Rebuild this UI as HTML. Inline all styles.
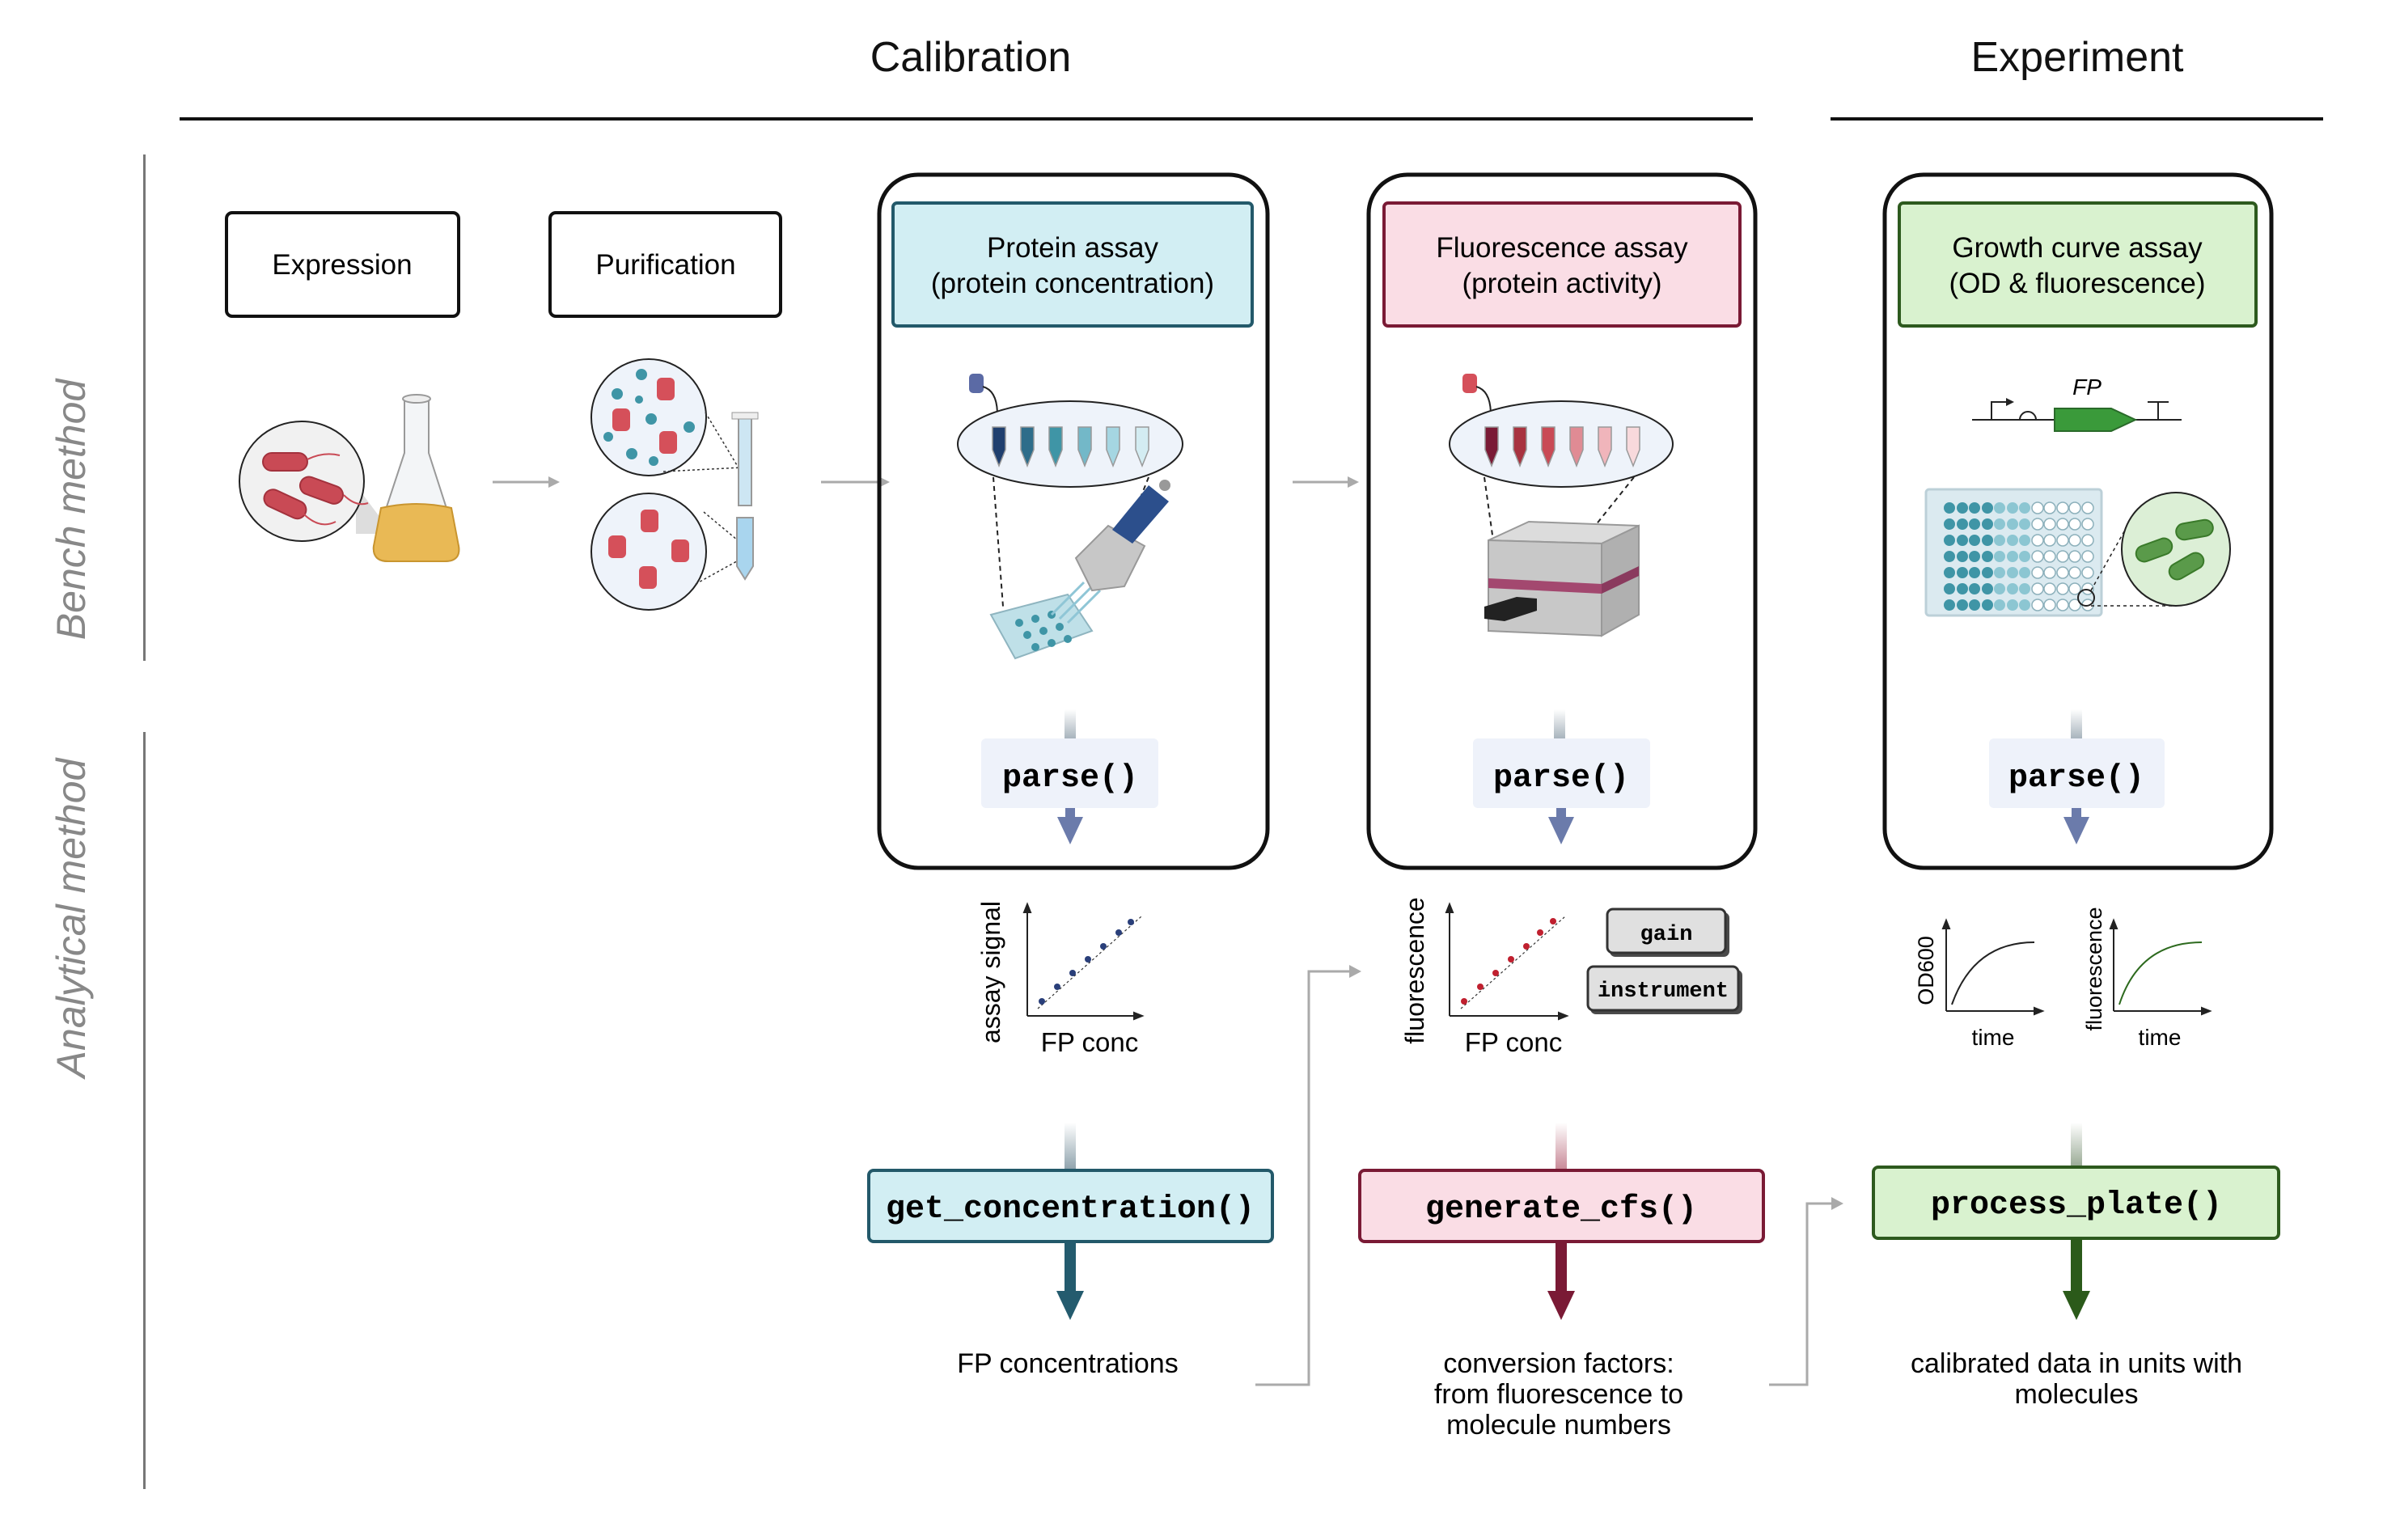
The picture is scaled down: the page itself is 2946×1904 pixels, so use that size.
<!DOCTYPE html>
<html><head><meta charset="utf-8"><style>
html,body{margin:0;padding:0;background:#fff}
svg{display:block}
text{font-family:"Liberation Sans",sans-serif}
.m{font-family:"Liberation Mono",monospace;font-weight:bold}
</style></head><body>
<svg width="2946" height="1904" viewBox="0 0 2946 1904" xmlns="http://www.w3.org/2000/svg">
<defs>
<linearGradient id="gb" x1="0" y1="0" x2="0" y2="1"><stop offset="0" stop-color="#fff"/><stop offset="1" stop-color="#8fa3ad"/></linearGradient>
<linearGradient id="gr" x1="0" y1="0" x2="0" y2="1"><stop offset="0" stop-color="#fff"/><stop offset="1" stop-color="#c98a98"/></linearGradient>
<linearGradient id="gg" x1="0" y1="0" x2="0" y2="1"><stop offset="0" stop-color="#fff"/><stop offset="1" stop-color="#9aab96"/></linearGradient>
<linearGradient id="gp" x1="0" y1="0" x2="0" y2="1"><stop offset="0" stop-color="#fff"/><stop offset="1" stop-color="#a8b4bd"/></linearGradient>
</defs>

<!-- Titles -->
<text x="1200" y="88" font-size="52" text-anchor="middle" fill="#111">Calibration</text>
<text x="2568" y="88" font-size="52" text-anchor="middle" fill="#111">Experiment</text>
<rect x="222" y="145" width="1945" height="4" fill="#111"/>
<rect x="2263" y="145" width="609" height="4" fill="#111"/>

<!-- Left axis -->
<rect x="177" y="191" width="3" height="626" fill="#777"/>
<rect x="177" y="905" width="3" height="936" fill="#777"/>
<text transform="translate(105,630) rotate(-90)" font-size="50" font-style="italic" fill="#888" text-anchor="middle">Bench method</text>
<text transform="translate(105,1135) rotate(-90)" font-size="50" font-style="italic" fill="#888" text-anchor="middle">Analytical method</text>

<!-- Expression / Purification boxes -->
<rect x="280" y="263" width="287" height="128" rx="7" fill="#fff" stroke="#111" stroke-width="4"/>
<text x="423" y="339" font-size="35" text-anchor="middle">Expression</text>
<rect x="680" y="263" width="285" height="128" rx="7" fill="#fff" stroke="#111" stroke-width="4"/>
<text x="823" y="339" font-size="35" text-anchor="middle">Purification</text>

<!-- Bacteria + flask -->
<polygon points="440,600 470,640 470,660 440,660" fill="#ddd"/>
<ellipse cx="373" cy="595" rx="77" ry="74" fill="#f1f1f1" stroke="#222" stroke-width="2"/>
<g fill="#c94a55" stroke="#a3323d" stroke-width="2">
<rect x="325" y="560" width="55" height="22" rx="11"/>
<rect x="370" y="595" width="55" height="22" rx="11" transform="rotate(20 397 606)"/>
<rect x="325" y="612" width="55" height="22" rx="11" transform="rotate(25 352 623)"/>
</g>
<path d="M380 568 q20 -10 40 -5 M425 612 q15 15 30 10 M375 635 q20 20 40 10" stroke="#c94a55" stroke-width="2" fill="none"/>
<path d="M500 493 L500 560 L462 675 Q460 694 480 694 L550 694 Q570 694 567 675 L530 560 L530 493 Z" fill="#f3f5f7" stroke="#999" stroke-width="2"/>
<ellipse cx="515" cy="493" rx="17" ry="5" fill="#eee" stroke="#999" stroke-width="2"/>
<path d="M471 628 Q515 618 558 628 L567 675 Q570 694 550 694 L480 694 Q460 694 462 675 Z" fill="#e9b955" stroke="#c9952f" stroke-width="2"/>

<!-- Arrows bench -->
<g stroke="#aaa" stroke-width="3" fill="#aaa">
<line x1="609" y1="596" x2="680" y2="596"/><polygon points="678,589 692,596 678,603" stroke="none"/>
<line x1="1015" y1="596" x2="1088" y2="596"/><polygon points="1086,589 1100,596 1086,603" stroke="none"/>
<line x1="1598" y1="596" x2="1668" y2="596"/><polygon points="1666,589 1680,596 1666,603" stroke="none"/>
</g>

<!-- Purification circles -->
<ellipse cx="802" cy="516" rx="71" ry="72" fill="#eef3fa" stroke="#222" stroke-width="2"/>
<ellipse cx="802" cy="682" rx="71" ry="72" fill="#eef3fa" stroke="#222" stroke-width="2"/>
<g fill="#d5505a">
<rect x="812" y="467" width="22" height="28" rx="6"/><rect x="757" y="505" width="22" height="28" rx="6"/><rect x="815" y="533" width="22" height="28" rx="6"/>
<rect x="792" y="630" width="22" height="28" rx="6"/><rect x="752" y="662" width="22" height="28" rx="6"/><rect x="830" y="667" width="22" height="28" rx="6"/><rect x="790" y="700" width="22" height="28" rx="6"/>
</g>
<g fill="#3f95a6"><circle cx="793" cy="463" r="7"/><circle cx="763" cy="487" r="7"/><circle cx="805" cy="518" r="7"/><circle cx="852" cy="528" r="7"/><circle cx="781" cy="561" r="7"/><circle cx="790" cy="494" r="5"/><circle cx="752" cy="540" r="6"/><circle cx="808" cy="570" r="6"/></g>
<path d="M872 510 L917 585 M820 583 L917 578 M870 633 L918 673 M860 722 L918 690" stroke="#333" stroke-width="1.5" stroke-dasharray="3,3" fill="none"/>
<rect x="913" y="515" width="16" height="110" fill="#cde6f3" stroke="#999" stroke-width="2"/>
<rect x="905" y="510" width="32" height="8" fill="#eee" stroke="#999"/>
<path d="M911 640 L931 640 L931 700 L921 716 L911 700 Z" fill="#a9d5ee" stroke="#999" stroke-width="2"/>

<!-- Outer panels -->
<rect x="1087" y="216" width="480" height="857" rx="48" fill="none" stroke="#111" stroke-width="5"/>
<rect x="1692" y="216" width="478" height="857" rx="48" fill="none" stroke="#111" stroke-width="5"/>
<rect x="2330" y="216" width="478" height="857" rx="48" fill="none" stroke="#111" stroke-width="5"/>

<!-- Headers -->
<rect x="1104" y="251" width="444" height="152" rx="5" fill="#d2eef3" stroke="#23596a" stroke-width="4"/>
<text x="1326" y="318" font-size="35" text-anchor="middle">Protein assay</text>
<text x="1326" y="362" font-size="35" text-anchor="middle">(protein concentration)</text>
<rect x="1711" y="251" width="440" height="152" rx="5" fill="#fadde5" stroke="#7a1a35" stroke-width="4"/>
<text x="1931" y="318" font-size="35" text-anchor="middle">Fluorescence assay</text>
<text x="1931" y="362" font-size="35" text-anchor="middle">(protein activity)</text>
<rect x="2348" y="251" width="441" height="152" rx="5" fill="#d9f2cf" stroke="#2d5a1e" stroke-width="4"/>
<text x="2568" y="318" font-size="35" text-anchor="middle">Growth curve assay</text>
<text x="2568" y="362" font-size="35" text-anchor="middle">(OD &amp; fluorescence)</text>

<!-- Protein assay illustration -->
<rect x="1198" y="462" width="18" height="24" rx="5" fill="#5b6aa5"/>
<path d="M1215 478 q18 5 18 35" stroke="#222" stroke-width="2" fill="none"/>
<ellipse cx="1323" cy="549" rx="139" ry="53" fill="#eef3fa" stroke="#222" stroke-width="2"/>
<g stroke="#999" stroke-width="1.5">
<path d="M1227 528 h16 v28 l-8 20 l-8 -20 z" fill="#1f3f6e"/>
<path d="M1262 528 h16 v28 l-8 20 l-8 -20 z" fill="#2e6d8a"/>
<path d="M1297 528 h16 v28 l-8 20 l-8 -20 z" fill="#3f95a6"/>
<path d="M1333 528 h16 v28 l-8 20 l-8 -20 z" fill="#73b8c8"/>
<path d="M1368 528 h16 v28 l-8 20 l-8 -20 z" fill="#a5d6e2"/>
<path d="M1404 528 h16 v28 l-8 20 l-8 -20 z" fill="#d3ecf2"/>
</g>
<path d="M1228 590 L1240 750 M1420 590 L1380 690" stroke="#222" stroke-width="2" stroke-dasharray="6,5" fill="none"/>
<polygon points="1225,760 1320,735 1350,780 1255,814" fill="#bfe0e8" stroke="#8fb5c0" stroke-width="2"/>
<g fill="#3f95a6"><circle cx="1260" cy="770" r="5"/><circle cx="1280" cy="765" r="5"/><circle cx="1300" cy="760" r="5"/><circle cx="1270" cy="785" r="5"/><circle cx="1290" cy="780" r="5"/><circle cx="1310" cy="775" r="5"/><circle cx="1280" cy="800" r="5"/><circle cx="1300" cy="795" r="5"/><circle cx="1320" cy="790" r="5"/></g>
<path d="M1300 760 L1340 720 M1310 765 L1350 725 M1320 770 L1360 730" stroke="#8fc6d6" stroke-width="3"/>
<polygon points="1330,690 1370,650 1415,675 1390,725 1350,730" fill="#c7c7c7" stroke="#999" stroke-width="2"/>
<polygon points="1375,655 1420,600 1445,620 1400,672" fill="#2c4f8c"/>
<circle cx="1440" cy="600" r="7" fill="#999"/>

<!-- Fluorescence illustration -->
<rect x="1808" y="462" width="18" height="24" rx="5" fill="#d5505a"/>
<path d="M1825 478 q18 5 18 35" stroke="#222" stroke-width="2" fill="none"/>
<ellipse cx="1930" cy="549" rx="138" ry="53" fill="#eef3fa" stroke="#222" stroke-width="2"/>
<g stroke="#999" stroke-width="1.5">
<path d="M1836 528 h16 v28 l-8 20 l-8 -20 z" fill="#7a1a35"/>
<path d="M1871 528 h16 v28 l-8 20 l-8 -20 z" fill="#a8323f"/>
<path d="M1906 528 h16 v28 l-8 20 l-8 -20 z" fill="#c94a55"/>
<path d="M1941 528 h16 v28 l-8 20 l-8 -20 z" fill="#e08b94"/>
<path d="M1976 528 h16 v28 l-8 20 l-8 -20 z" fill="#f0b5bb"/>
<path d="M2011 528 h16 v28 l-8 20 l-8 -20 z" fill="#f8d9dc"/>
</g>
<path d="M1835 590 L1856 740 M2020 590 L1900 740" stroke="#222" stroke-width="2" stroke-dasharray="6,5" fill="none"/>
<polygon points="1840,668 1890,645 2026,650 1980,672" fill="#dcdcdc" stroke="#999" stroke-width="2"/>
<polygon points="1840,668 1980,672 1980,786 1840,780" fill="#c8c8c8" stroke="#999" stroke-width="2"/>
<polygon points="1980,672 2026,650 2026,760 1980,786" fill="#b0b0b0" stroke="#999" stroke-width="2"/>
<polygon points="1840,715 1980,722 1980,734 1840,727" fill="#a3486f"/>
<polygon points="1980,722 2026,700 2026,712 1980,734" fill="#8a3a5e"/>
<polygon points="1835,750 1875,738 1900,740 1900,755 1860,768 1835,765" fill="#222"/>

<!-- Growth illustration -->
<text x="2580" y="488" font-size="28" font-style="italic" text-anchor="middle">FP</text>
<line x1="2438" y1="519" x2="2697" y2="519" stroke="#222" stroke-width="2"/>
<path d="M2462 519 v-22 h18" stroke="#222" stroke-width="2" fill="none"/><polygon points="2480,492 2490,497 2480,502" fill="#222"/>
<path d="M2497 519 a10 10 0 0 1 20 0" stroke="#222" stroke-width="2" fill="none"/>
<polygon points="2540,505 2610,505 2640,519 2610,533 2540,533" fill="#3a9a3a" stroke="#2a6a2a" stroke-width="2"/>
<path d="M2668 519 v-22 M2655 497 h26" stroke="#222" stroke-width="2"/>
<rect x="2381" y="605" width="217" height="156" rx="4" fill="#dbeaf0" stroke="#bcd0d8" stroke-width="3"/>
<g id="wells"></g>
<g>
<!-- 12x8 wells -->
<g fill="#3f95a6">
<circle cx="2410" cy="628" r="7"/><circle cx="2426" cy="628" r="7"/><circle cx="2441" cy="628" r="7"/><circle cx="2457" cy="628" r="7"/>
<circle cx="2410" cy="648" r="7"/><circle cx="2426" cy="648" r="7"/><circle cx="2441" cy="648" r="7"/><circle cx="2457" cy="648" r="7"/>
<circle cx="2410" cy="668" r="7"/><circle cx="2426" cy="668" r="7"/><circle cx="2441" cy="668" r="7"/><circle cx="2457" cy="668" r="7"/>
<circle cx="2410" cy="688" r="7"/><circle cx="2426" cy="688" r="7"/><circle cx="2441" cy="688" r="7"/><circle cx="2457" cy="688" r="7"/>
<circle cx="2410" cy="708" r="7"/><circle cx="2426" cy="708" r="7"/><circle cx="2441" cy="708" r="7"/><circle cx="2457" cy="708" r="7"/>
<circle cx="2410" cy="728" r="7"/><circle cx="2426" cy="728" r="7"/><circle cx="2441" cy="728" r="7"/><circle cx="2457" cy="728" r="7"/>
<circle cx="2410" cy="748" r="7"/><circle cx="2426" cy="748" r="7"/><circle cx="2441" cy="748" r="7"/><circle cx="2457" cy="748" r="7"/>
</g>
<g fill="#8cc6d2">
<circle cx="2472" cy="628" r="7"/><circle cx="2488" cy="628" r="7"/><circle cx="2503" cy="628" r="7"/><circle cx="2472" cy="648" r="7"/><circle cx="2488" cy="648" r="7"/><circle cx="2503" cy="648" r="7"/><circle cx="2472" cy="668" r="7"/><circle cx="2488" cy="668" r="7"/><circle cx="2503" cy="668" r="7"/><circle cx="2472" cy="688" r="7"/><circle cx="2488" cy="688" r="7"/><circle cx="2503" cy="688" r="7"/><circle cx="2472" cy="708" r="7"/><circle cx="2488" cy="708" r="7"/><circle cx="2503" cy="708" r="7"/><circle cx="2472" cy="728" r="7"/><circle cx="2488" cy="728" r="7"/><circle cx="2503" cy="728" r="7"/><circle cx="2472" cy="748" r="7"/><circle cx="2488" cy="748" r="7"/><circle cx="2503" cy="748" r="7"/>
</g>
<g fill="#fff" stroke="#8cb0bb" stroke-width="1.5">
<circle cx="2519" cy="628" r="7"/><circle cx="2534" cy="628" r="7"/><circle cx="2550" cy="628" r="7"/><circle cx="2565" cy="628" r="7"/><circle cx="2581" cy="628" r="7"/>
<circle cx="2519" cy="648" r="7"/><circle cx="2534" cy="648" r="7"/><circle cx="2550" cy="648" r="7"/><circle cx="2565" cy="648" r="7"/><circle cx="2581" cy="648" r="7"/>
<circle cx="2519" cy="668" r="7"/><circle cx="2534" cy="668" r="7"/><circle cx="2550" cy="668" r="7"/><circle cx="2565" cy="668" r="7"/><circle cx="2581" cy="668" r="7"/>
<circle cx="2519" cy="688" r="7"/><circle cx="2534" cy="688" r="7"/><circle cx="2550" cy="688" r="7"/><circle cx="2565" cy="688" r="7"/><circle cx="2581" cy="688" r="7"/>
<circle cx="2519" cy="708" r="7"/><circle cx="2534" cy="708" r="7"/><circle cx="2550" cy="708" r="7"/><circle cx="2565" cy="708" r="7"/><circle cx="2581" cy="708" r="7"/>
<circle cx="2519" cy="728" r="7"/><circle cx="2534" cy="728" r="7"/><circle cx="2550" cy="728" r="7"/><circle cx="2565" cy="728" r="7"/><circle cx="2581" cy="728" r="7"/>
<circle cx="2519" cy="748" r="7"/><circle cx="2534" cy="748" r="7"/><circle cx="2550" cy="748" r="7"/><circle cx="2565" cy="748" r="7"/><circle cx="2581" cy="748" r="7"/>
</g>
<circle cx="2579" cy="739" r="10" fill="none" stroke="#222" stroke-width="2"/>
</g>
<path d="M2585 730 L2630 650 M2585 749 L2690 749" stroke="#222" stroke-width="1.5" stroke-dasharray="4,4" fill="none"/>
<ellipse cx="2690" cy="679" rx="67" ry="70" fill="#dcefd6" stroke="#222" stroke-width="2"/>
<g fill="#5a9a4a" stroke="#3a7a2a" stroke-width="2">
<rect x="2690" y="645" width="46" height="20" rx="10" transform="rotate(-10 2713 655)"/>
<rect x="2640" y="670" width="46" height="20" rx="10" transform="rotate(-20 2663 680)"/>
<rect x="2680" y="690" width="46" height="20" rx="10" transform="rotate(-30 2703 700)"/>
</g>

<!-- parse boxes -->
<rect x="1316" y="877" width="14" height="36" fill="url(#gp)"/>
<rect x="1921" y="877" width="14" height="36" fill="url(#gp)"/>
<rect x="2560" y="877" width="14" height="36" fill="url(#gp)"/>
<rect x="1213" y="913" width="219" height="86" rx="6" fill="#eef2fa"/>
<rect x="1821" y="913" width="219" height="86" rx="6" fill="#eef2fa"/>
<rect x="2459" y="913" width="217" height="86" rx="6" fill="#eef2fa"/>
<text x="1323" y="972" class="m" font-size="40" text-anchor="middle">parse()</text>
<text x="1930" y="972" class="m" font-size="40" text-anchor="middle">parse()</text>
<text x="2567" y="972" class="m" font-size="40" text-anchor="middle">parse()</text>
<g fill="#6b7bab">
<rect x="1317" y="999" width="12" height="18"/><polygon points="1307,1010 1339,1010 1323,1044"/>
<rect x="1924" y="999" width="12" height="18"/><polygon points="1914,1010 1946,1010 1930,1044"/>
<rect x="2561" y="999" width="12" height="18"/><polygon points="2551,1010 2583,1010 2567,1044"/>
</g>

<!-- Plots -->
<g stroke="#222" stroke-width="2" fill="#222">
<line x1="1270" y1="1125" x2="1270" y2="1256"/><polygon points="1266,1128 1270,1118 1274,1128" />
<line x1="1270" y1="1256" x2="1405" y2="1256"/><polygon points="1402,1252 1412,1256 1402,1260"/>
<line x1="1792" y1="1125" x2="1792" y2="1256"/><polygon points="1788,1128 1792,1118 1796,1128"/>
<line x1="1792" y1="1256" x2="1930" y2="1256"/><polygon points="1927,1252 1937,1256 1927,1260"/>
<line x1="2406" y1="1145" x2="2406" y2="1250"/><polygon points="2402,1148 2406,1138 2410,1148"/>
<line x1="2406" y1="1250" x2="2518" y2="1250"/><polygon points="2515,1246 2525,1250 2515,1254"/>
<line x1="2613" y1="1145" x2="2613" y2="1250"/><polygon points="2609,1148 2613,1138 2617,1148"/>
<line x1="2613" y1="1250" x2="2725" y2="1250"/><polygon points="2722,1246 2732,1250 2722,1254"/>
</g>
<line x1="1283" y1="1247" x2="1411" y2="1133" stroke="#333" stroke-width="1.2" stroke-dasharray="3,3"/>
<g fill="#2a3f7a"><circle cx="1288" cy="1238" r="4"/><circle cx="1307" cy="1220" r="4"/><circle cx="1326" cy="1203" r="4"/><circle cx="1345" cy="1186" r="4"/><circle cx="1364" cy="1170" r="4"/><circle cx="1383" cy="1153" r="4"/><circle cx="1398" cy="1140" r="4"/></g>
<line x1="1806" y1="1247" x2="1935" y2="1133" stroke="#333" stroke-width="1.2" stroke-dasharray="3,3"/>
<g fill="#c0202f"><circle cx="1810" cy="1238" r="4"/><circle cx="1830" cy="1220" r="4"/><circle cx="1849" cy="1203" r="4"/><circle cx="1868" cy="1186" r="4"/><circle cx="1887" cy="1170" r="4"/><circle cx="1904" cy="1153" r="4"/><circle cx="1920" cy="1139" r="4"/></g>
<path d="M2413 1242 Q2440 1165 2515 1165" stroke="#222" stroke-width="2" fill="none"/>
<path d="M2620 1242 Q2645 1165 2722 1165" stroke="#2d6a1e" stroke-width="2" fill="none"/>
<text transform="translate(1236,1202) rotate(-90)" font-size="32" text-anchor="middle">assay signal</text>
<text x="1347" y="1300" font-size="33" text-anchor="middle">FP conc</text>
<text transform="translate(1760,1200) rotate(-90)" font-size="32" text-anchor="middle">fluorescence</text>
<text x="1871" y="1300" font-size="33" text-anchor="middle">FP conc</text>
<text transform="translate(2390,1200) rotate(-90)" font-size="27" text-anchor="middle">OD600</text>
<text transform="translate(2598,1198) rotate(-90)" font-size="27" text-anchor="middle">fluorescence</text>
<text x="2464" y="1292" font-size="28" text-anchor="middle">time</text>
<text x="2670" y="1292" font-size="28" text-anchor="middle">time</text>
<rect x="1990" y="1128" width="148" height="55" rx="7" fill="#4a4a4a"/>
<rect x="1987" y="1124" width="146" height="54" rx="7" fill="#e0e0e0" stroke="#333" stroke-width="3"/>
<text x="2060" y="1162" class="m" font-size="27" text-anchor="middle">gain</text>
<rect x="1966" y="1199" width="188" height="55" rx="7" fill="#4a4a4a"/>
<rect x="1963" y="1195" width="186" height="54" rx="7" fill="#e0e0e0" stroke="#333" stroke-width="3"/>
<text x="2056" y="1232" class="m" font-size="27" text-anchor="middle">instrument</text>

<!-- Function boxes -->
<rect x="1316" y="1388" width="14" height="58" fill="url(#gb)"/>
<rect x="1923" y="1388" width="14" height="58" fill="url(#gr)"/>
<rect x="2560" y="1388" width="14" height="54" fill="url(#gg)"/>
<rect x="1074" y="1447" width="499" height="88" rx="6" fill="#d2eef3" stroke="#23596a" stroke-width="4"/>
<text x="1323" y="1505" class="m" font-size="40" text-anchor="middle">get_concentration()</text>
<rect x="1681" y="1447" width="499" height="88" rx="6" fill="#fadde5" stroke="#7a1a35" stroke-width="4"/>
<text x="1930" y="1505" class="m" font-size="40" text-anchor="middle">generate_cfs()</text>
<rect x="2316" y="1443" width="501" height="88" rx="6" fill="#d9f2cf" stroke="#2d5a1e" stroke-width="4"/>
<text x="2567" y="1500" class="m" font-size="40" text-anchor="middle">process_plate()</text>
<rect x="1316" y="1535" width="14" height="65" fill="#245b6e"/><polygon points="1306,1596 1340,1596 1323,1632" fill="#245b6e"/>
<rect x="1923" y="1535" width="14" height="65" fill="#7a1a35"/><polygon points="1913,1596 1947,1596 1930,1632" fill="#7a1a35"/>
<rect x="2560" y="1531" width="14" height="68" fill="#2b5a1a"/><polygon points="2550,1596 2584,1596 2567,1632" fill="#2b5a1a"/>

<!-- outputs -->
<text x="1320" y="1697" font-size="34" text-anchor="middle">FP concentrations</text>
<text x="1927" y="1697" font-size="34" text-anchor="middle">conversion factors:</text>
<text x="1927" y="1735" font-size="34" text-anchor="middle">from fluorescence to</text>
<text x="1927" y="1773" font-size="34" text-anchor="middle">molecule numbers</text>
<text x="2567" y="1697" font-size="34" text-anchor="middle">calibrated data in units with</text>
<text x="2567" y="1735" font-size="34" text-anchor="middle">molecules</text>

<!-- connectors -->
<g stroke="#aaa" stroke-width="3" fill="none">
<polyline points="1552,1712 1618,1712 1618,1201 1670,1201"/>
<polyline points="2187,1712 2234,1712 2234,1488 2266,1488"/>
</g>
<polygon points="1668,1193 1683,1201 1668,1209" fill="#aaa"/>
<polygon points="2264,1480 2279,1488 2264,1496" fill="#aaa"/>
</svg>
</body></html>
